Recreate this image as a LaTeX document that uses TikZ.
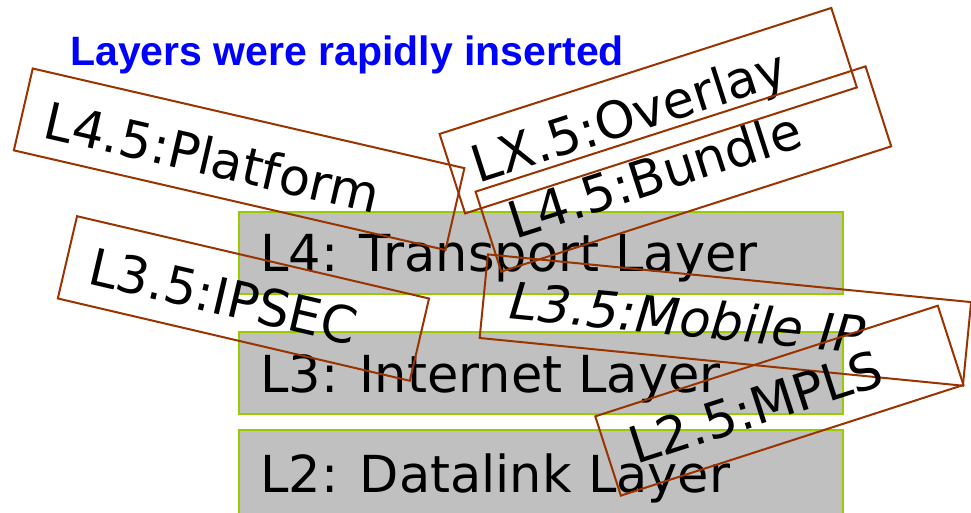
\documentclass[tikz,border=0pt]{standalone}
\usepackage{fontspec}
\setmainfont{DejaVu Sans}
\newfontfamily\headfont{Liberation Sans}

\definecolor{layerfill}{HTML}{C0C0C0}
\definecolor{layeredge}{HTML}{99CC00}
\definecolor{shimedge}{HTML}{993300}
\definecolor{headblue}{HTML}{0000FF}

\tikzset{
  layerbox/.style={draw=layeredge, fill=layerfill, line width=2pt,
    anchor=north west, inner sep=0pt, minimum width=604pt, minimum height=82pt},
  bigtext/.style={font=\fontsize{51}{61}\selectfont, anchor=base west, inner sep=0pt},
  shimbox/.style={draw=shimedge, line width=2pt, anchor=north west, inner sep=0pt},
}

\begin{document}
\begin{tikzpicture}[x=1pt,y=-1pt]
\useasboundingbox (0,0) rectangle (971,512);
\clip (0,0) rectangle (971,512);

% heading
\node[anchor=base west, inner sep=0pt, text=headblue,
      font=\headfont\bfseries\fontsize{41}{49}\selectfont] (title) at (70,65.7)
  {Layers were rapidly inserted};

% the classic layer stack
\node[layerbox] (l4) at (238,211) {};
\node[bigtext] (l4text) at (260,271.7) {L4: Transport Layer};
\node[layerbox] (l3) at (238,331) {};
\node[bigtext] (l3text) at (260,392) {L3: Internet Layer};
\node[layerbox, minimum height=100pt] (l2) at (238,429) {};
\node[bigtext] (l2text) at (260,492) {L2: Datalink Layer};

% shim layers squeezed in between, drawn as tilted frames
\begin{scope}[shift={(32,67.3)}, rotate=-13.0, transform shape]
  \node[shimbox, minimum width=443pt, minimum height=84pt] (platform) at (0,0) {};
  \node[bigtext] (platformtext) at (25,66) {L4.5:Platform};
\end{scope}

\begin{scope}[shift={(76.3,215)}, rotate=-13.16, transform shape]
  \node[shimbox, minimum width=361.5pt, minimum height=84.5pt] (ipsec) at (0,0) {};
  \node[bigtext] (ipsectext) at (25,64.3) {L3.5:IPSEC};
\end{scope}

\begin{scope}[shift={(487,253.3)}, rotate=-5.64, transform shape]
  \node[shimbox, minimum width=485.6pt, minimum height=84pt] (mobileip) at (0,0) {};
  \node[bigtext, font=\fontsize{51}{61}\selectfont\itshape] (mobileiptext) at (28,63) {L3.5:Mobile IP};
\end{scope}

\begin{scope}[shift={(438.3,133.3)}, rotate=17.83, transform shape]
  \node[shimbox, minimum width=411.5pt, minimum height=83.5pt] (overlay) at (0,0) {};
  \node[bigtext] (overlaytext) at (23,60) {LX.5:Overlay};
\end{scope}

\begin{scope}[shift={(474.3,191)}, rotate=17.81, transform shape]
  \node[shimbox, minimum width=409.6pt, minimum height=84pt] (bundle) at (0,0) {};
  \node[bigtext] (bundletext) at (24,58.5) {L4.5:Bundle};
\end{scope}

\begin{scope}[shift={(594,415.7)}, rotate=17.9, transform shape]
  \node[shimbox, minimum width=360pt, minimum height=83.3pt] (mpls) at (0,0) {};
  \node[bigtext] (mplstext) at (25.5,60) {L2.5:MPLS};
\end{scope}
\end{tikzpicture}
\end{document}
